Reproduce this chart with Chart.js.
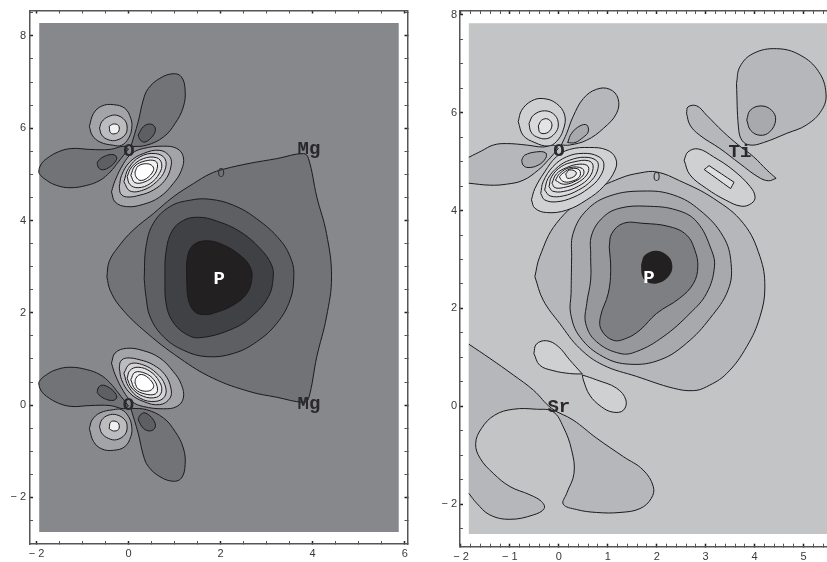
<!doctype html>
<html>
<head>
	<title>Contour maps</title>
	<script src="https://cdn.jsdelivr.net/npm/chart.js@4"></script>
	<style>
	html, body { margin: 0; padding: 0; background: #fff; overflow: hidden; }
	canvas { position: absolute; top: 0; }
	#left { left: 0; }
	#right { left: 413px; }
	</style>
</head>
<body>
	<canvas id="left" width="413" height="562"></canvas>
	<canvas id="right" width="414" height="562"></canvas>

	<script>

	// ---- left map, contours in axis units
	var leftXTicks = [-2,-1.5,-1,-0.5,0,0.5,1,1.5,2,2.5,3,3.5,4,4.5,5,5.5,6];
	var leftYTicks = [-3,-2.5,-2,-1.5,-1,-0.5,0,0.5,1,1.5,2,2.5,3,3.5,4,4.5,5,5.5,6,6.5,7,7.5,8,8.5];
	var leftXLabels = [-2,0,2,4,6];
	var leftYLabels = [-2,0,2,4,6,8];
	var leftBack = [[-1.94,8.28],[5.87,8.28],[5.87,-2.75],[-1.94,-2.75]];

	var leftWell1 = [[-0.47,2.78],[-0.42,3.11],[-0.22,3.43],[0.10,3.79],[0.54,4.15],[0.97,4.51],[1.41,4.80],[1.77,5.01],[2.06,5.11],[2.64,5.24],[3.22,5.34],[3.80,5.45],[3.91,5.34],[4.09,4.51],[4.30,3.72],[4.41,2.78],[4.30,1.91],[4.09,1.05],[3.91,0.14],[3.80,0.06],[3.22,0.17],[2.64,0.29],[1.84,0.58],[1.12,1.01],[0.32,1.63],[-0.18,2.13],[-0.40,2.49]];
	var leftWell2 = [[0.34,2.74],[0.38,3.43],[0.54,3.94],[0.90,4.30],[1.34,4.44],[1.77,4.46],[2.28,4.33],[2.78,4.04],[3.29,3.58],[3.54,3.14],[3.59,2.78],[3.51,2.28],[3.22,1.77],[2.78,1.37],[2.28,1.12],[1.70,1.05],[1.19,1.19],[0.76,1.48],[0.47,1.91],[0.38,2.35]];
	var leftWell3 = [[0.79,2.74],[0.81,3.29],[0.94,3.76],[1.19,4.00],[1.52,4.07],[1.91,3.99],[2.42,3.76],[2.86,3.39],[3.11,3.03],[3.14,2.74],[3.04,2.35],[2.71,1.95],[2.28,1.66],[1.55,1.46],[1.23,1.55],[0.94,1.84],[0.81,2.24]];
	var leftWell4 = [[1.26,2.74],[1.28,3.21],[1.41,3.47],[1.70,3.56],[2.06,3.47],[2.42,3.25],[2.64,3.00],[2.68,2.74],[2.57,2.42],[2.28,2.17],[1.91,2.01],[1.66,1.96],[1.44,2.02],[1.30,2.28]];

	// upper oxygen
	var upLobeW = [[-1.94,5.13],[-1.89,5.23],[-1.78,5.34],[-1.52,5.49],[-1.23,5.56],[-0.84,5.54],[-0.40,5.54],[-0.10,5.61],[0,5.55],[0,5.55],[-0.22,5.27],[-0.40,5.05],[-0.62,4.87],[-0.91,4.76],[-1.27,4.71],[-1.56,4.76],[-1.78,4.87],[-1.94,5.02]];
	var upLobeWIn = [[-0.68,5.26],[-0.58,5.36],[-0.37,5.43],[-0.26,5.38],[-0.29,5.27],[-0.44,5.14],[-0.58,5.10],[-0.66,5.16]];
	var upLobeN = [[0.05,5.60],[0.21,6.14],[0.32,6.61],[0.43,6.86],[0.68,7.08],[0.97,7.18],[1.15,7.11],[1.23,6.82],[1.19,6.46],[1.01,6.10],[0.76,5.81],[0.39,5.63]];
	var upLobeNIn = [[0.21,5.85],[0.32,6.03],[0.47,6.09],[0.58,6.01],[0.54,5.85],[0.36,5.70],[0.25,5.75]];
	var upSmall1 = [[-0.85,6.04],[-0.76,6.32],[-0.58,6.48],[-0.33,6.51],[-0.08,6.43],[0.05,6.21],[0.07,6.00],[0,5.78],[-0.15,5.63],[-0.33,5.63],[-0.62,5.70],[-0.79,5.85]];
	var upSmall2 = [[-0.63,6.00],[-0.58,6.14],[-0.44,6.25],[-0.26,6.28],[-0.08,6.17],[-0.03,6.00],[-0.08,5.85],[-0.26,5.74],[-0.44,5.75],[-0.58,5.85]];
	var upSmall3 = [[-0.42,6.04],[-0.33,6.09],[-0.22,6.06],[-0.21,5.94],[-0.29,5.88],[-0.39,5.90]];
	var upMain1 = [[-0.37,4.62],[-0.29,4.87],[-0.11,5.23],[0.07,5.45],[0.32,5.56],[0.76,5.61],[1.05,5.56],[1.19,5.38],[1.15,5.09],[0.97,4.80],[0.68,4.51],[0.32,4.35],[-0.04,4.30],[-0.29,4.40]];
	var upMain2 = [[-0.20,4.73],[-0.15,4.98],[0.03,5.27],[0.32,5.45],[0.68,5.52],[0.90,5.38],[0.92,5.16],[0.79,4.87],[0.54,4.66],[0.25,4.55],[-0.04,4.51],[-0.17,4.58]];
	var upMain3 = [[-0.10,4.84],[0,5.13],[0.25,5.38],[0.58,5.45],[0.79,5.34],[0.79,5.09],[0.61,4.84],[0.32,4.66],[0.03,4.64]];
	var upMain4 = [[-0.03,4.95],[0.07,5.16],[0.32,5.34],[0.61,5.36],[0.72,5.23],[0.67,5.02],[0.47,4.80],[0.21,4.71],[0.03,4.78]];
	var upMain5 = [[0.05,4.98],[0.14,5.18],[0.36,5.29],[0.58,5.29],[0.63,5.18],[0.55,4.98],[0.36,4.84],[0.14,4.82]];
	var upMain6 = [[0.14,5.05],[0.21,5.18],[0.39,5.23],[0.52,5.18],[0.54,5.08],[0.39,4.91],[0.25,4.87],[0.16,4.95]];

	// lower oxygen
	var lowLobeW = [[-1.94,0.40],[-1.89,0.30],[-1.78,0.19],[-1.52,0.04],[-1.23,-0.03],[-0.84,-0.01],[-0.40,-0.01],[-0.10,-0.08],[0,-0.02],[0,-0.02],[-0.22,0.26],[-0.40,0.48],[-0.62,0.66],[-0.91,0.77],[-1.27,0.82],[-1.56,0.77],[-1.78,0.66],[-1.94,0.51]];
	var lowLobeWIn = [[-0.68,0.27],[-0.58,0.17],[-0.37,0.10],[-0.26,0.15],[-0.29,0.26],[-0.44,0.39],[-0.58,0.43],[-0.66,0.37]];
	var lowLobeS = [[0.05,-0.07],[0.21,-0.61],[0.32,-1.08],[0.43,-1.33],[0.68,-1.55],[0.97,-1.65],[1.15,-1.58],[1.23,-1.29],[1.19,-0.93],[1.01,-0.57],[0.76,-0.28],[0.39,-0.10]];
	var lowLobeSIn = [[0.21,-0.32],[0.32,-0.50],[0.47,-0.56],[0.58,-0.48],[0.54,-0.32],[0.36,-0.17],[0.25,-0.22]];
	var lowSmall1 = [[-0.85,-0.51],[-0.76,-0.79],[-0.58,-0.95],[-0.33,-0.98],[-0.08,-0.90],[0.05,-0.68],[0.07,-0.47],[0,-0.25],[-0.15,-0.10],[-0.33,-0.10],[-0.62,-0.17],[-0.79,-0.32]];
	var lowSmall2 = [[-0.63,-0.47],[-0.58,-0.61],[-0.44,-0.72],[-0.26,-0.75],[-0.08,-0.64],[-0.03,-0.47],[-0.08,-0.32],[-0.26,-0.21],[-0.44,-0.22],[-0.58,-0.32]];
	var lowSmall3 = [[-0.42,-0.51],[-0.33,-0.56],[-0.22,-0.53],[-0.21,-0.41],[-0.29,-0.35],[-0.39,-0.37]];
	var lowMain1 = [[-0.37,0.91],[-0.29,0.66],[-0.11,0.30],[0.07,0.08],[0.32,-0.03],[0.76,-0.08],[1.05,-0.03],[1.19,0.15],[1.15,0.44],[0.97,0.73],[0.68,1.02],[0.32,1.18],[-0.04,1.23],[-0.29,1.13]];
	var lowMain2 = [[-0.20,0.80],[-0.15,0.55],[0.03,0.26],[0.32,0.08],[0.68,0.01],[0.90,0.15],[0.92,0.37],[0.79,0.66],[0.54,0.87],[0.25,0.98],[-0.04,1.02],[-0.17,0.95]];
	var lowMain3 = [[-0.10,0.69],[0,0.40],[0.25,0.15],[0.58,0.08],[0.79,0.19],[0.79,0.44],[0.61,0.69],[0.32,0.87],[0.03,0.89]];
	var lowMain4 = [[-0.03,0.58],[0.07,0.37],[0.32,0.19],[0.61,0.17],[0.72,0.30],[0.67,0.51],[0.47,0.73],[0.21,0.82],[0.03,0.75]];
	var lowMain5 = [[0.05,0.55],[0.14,0.35],[0.36,0.24],[0.58,0.24],[0.63,0.35],[0.55,0.55],[0.36,0.69],[0.14,0.71]];
	var lowMain6 = [[0.14,0.48],[0.21,0.35],[0.39,0.30],[0.52,0.35],[0.54,0.45],[0.39,0.62],[0.25,0.66],[0.16,0.58]];

	var leftAtoms = ["O","Mg","Mg","O","P"];
	var leftAtomX = [0.01,3.92,3.92,0,1.97];
	var leftAtomY = [5.50,5.55,0.02,0,2.73];
	var leftZero = [2.01,5.01];

	// ---- right map
	var rightXTicks = [-2,-1.8,-1.6,-1.4,-1.2,-1,-0.8,-0.6,-0.4,-0.2,0,0.2,0.4,0.6,0.8,1,1.2,1.4,1.6,1.8,2,2.2,2.4,2.6,2.8,3,3.2,3.4,3.6,3.8,4,4.2,4.4,4.6,4.8,5,5.2,5.4];
	var rightYTicks = [-2.5,-2,-1.5,-1,-0.5,0,0.5,1,1.5,2,2.5,3,3.5,4,4.5,5,5.5,6,6.5,7,7.5,8];
	var rightXLabels = [-2,-1,0,1,2,3,4,5];
	var rightYLabels = [-2,0,2,4,6,8];
	var rightBack = [[-1.84,7.83],[5.48,7.83],[5.48,-2.61],[-1.84,-2.61]];
	var rightEdge = -1.84;

	var rightWell1 = [[-0.49,2.65],[-0.39,3.06],[-0.05,3.74],[0.63,4.35],[1.25,4.66],[1.66,4.77],[2.00,4.79],[2.47,4.61],[3.16,4.25],[3.77,3.74],[4.11,3.06],[4.21,2.44],[4.11,1.83],[3.84,1.22],[3.43,0.67],[3.02,0.40],[2.75,0.32],[2.34,0.37],[1.59,0.61],[0.91,0.84],[0.43,1.18],[0.02,1.69],[-0.32,2.17]];
	var rightWell2 = [[0.26,2.99],[0.29,3.53],[0.57,4.01],[1.04,4.30],[1.72,4.40],[2.34,4.32],[2.88,4.01],[3.36,3.47],[3.52,2.92],[3.46,2.38],[3.09,1.80],[2.61,1.29],[2.07,0.95],[1.45,0.86],[0.91,1.01],[0.43,1.42],[0.24,1.90],[0.25,2.31]];
	var rightWell3 = [[0.65,3.06],[0.67,3.50],[0.91,3.87],[1.25,4.05],[1.79,4.09],[2.41,4.01],[2.82,3.77],[3.12,3.19],[3.18,2.85],[3.02,2.31],[2.68,1.90],[2.13,1.42],[1.59,1.12],[1.25,1.08],[0.77,1.32],[0.55,1.69],[0.57,2.10],[0.65,2.58]];
	var rightWell4 = [[1.03,3.26],[1.08,3.53],[1.32,3.74],[1.72,3.74],[2.27,3.67],[2.61,3.50],[2.78,3.19],[2.84,2.85],[2.75,2.51],[2.47,2.21],[2.00,1.90],[1.66,1.56],[1.38,1.39],[1.11,1.35],[0.87,1.56],[0.85,1.83],[1.01,2.31],[1.06,2.78]];
	var rightWell5 = [[1.68,2.89],[1.76,3.09],[2.00,3.18],[2.24,3.06],[2.32,2.85],[2.24,2.65],[2.00,2.51],[1.79,2.55],[1.70,2.68]];

	var oxLobeW = [[-1.84,5.09],[-1.58,5.22],[-1.34,5.34],[-1.07,5.37],[-0.66,5.34],[-0.32,5.30],[-0.12,5.34],[-0.01,5.27],[-0.01,5.27],[-0.22,5.03],[-0.42,4.83],[-0.73,4.62],[-1.07,4.54],[-1.41,4.52],[-1.84,4.56],[-1.84,4.56]];
	var oxLobeWIn = [[-0.76,5.03],[-0.70,5.13],[-0.46,5.20],[-0.27,5.18],[-0.27,5.07],[-0.42,4.93],[-0.63,4.88],[-0.73,4.93]];
	var oxLobeN = [[0.05,5.34],[0.16,5.58],[0.29,5.92],[0.50,6.29],[0.77,6.48],[1.04,6.48],[1.21,6.29],[1.18,5.99],[0.91,5.68],[0.57,5.44],[0.22,5.34]];
	var oxLobeNIn = [[0.18,5.39],[0.26,5.58],[0.43,5.73],[0.57,5.75],[0.60,5.61],[0.50,5.50],[0.33,5.39]];
	var oxSmall1 = [[-0.83,5.82],[-0.76,6.05],[-0.56,6.24],[-0.32,6.29],[-0.05,6.19],[0.12,5.95],[0.09,5.65],[-0.05,5.41],[-0.22,5.32],[-0.49,5.39],[-0.73,5.54]];
	var oxSmall2 = [[-0.61,5.78],[-0.52,5.95],[-0.29,6.04],[-0.08,5.95],[-0.01,5.75],[-0.08,5.58],[-0.25,5.47],[-0.46,5.51],[-0.57,5.61]];
	var oxSmall3 = [[-0.42,5.73],[-0.35,5.85],[-0.22,5.87],[-0.14,5.75],[-0.22,5.60],[-0.38,5.59]];
	var oxMain1 = [[-0.56,4.22],[-0.49,4.45],[-0.29,4.79],[-0.05,5.10],[0.22,5.25],[0.63,5.29],[0.98,5.24],[1.16,5.07],[1.15,4.83],[0.91,4.49],[0.57,4.22],[0.16,4.01],[-0.25,3.96],[-0.49,4.05]];
	var oxMain2 = [[-0.37,4.35],[-0.32,4.59],[-0.12,4.90],[0.16,5.10],[0.50,5.17],[0.80,5.11],[0.92,4.96],[0.84,4.69],[0.60,4.45],[0.29,4.27],[-0.05,4.18],[-0.29,4.22]];
	var oxMain3 = [[-0.29,4.42],[-0.22,4.66],[-0.01,4.90],[0.22,5.03],[0.53,5.09],[0.77,5.02],[0.80,4.86],[0.67,4.62],[0.40,4.42],[0.09,4.30],[-0.18,4.30]];
	var oxMain4 = [[-0.20,4.49],[-0.15,4.69],[0.05,4.90],[0.33,5.00],[0.60,5.02],[0.70,4.92],[0.63,4.69],[0.40,4.50],[0.09,4.39],[-0.13,4.40]];
	var oxMain5 = [[-0.14,4.56],[-0.05,4.75],[0.16,4.88],[0.43,4.95],[0.60,4.90],[0.57,4.73],[0.36,4.56],[0.09,4.47],[-0.08,4.47]];
	var oxMain6 = [[-0.07,4.62],[0.02,4.76],[0.23,4.88],[0.48,4.86],[0.50,4.73],[0.31,4.59],[0.09,4.54]];
	var oxMain7 = [[0.01,4.69],[0.09,4.77],[0.26,4.86],[0.42,4.83],[0.42,4.69],[0.23,4.59],[0.08,4.60]];
	var oxMain8 = [[0.14,4.75],[0.22,4.83],[0.35,4.79],[0.33,4.71],[0.18,4.66]];

	var tiBlob = [[3.63,6.60],[3.70,6.94],[3.97,7.21],[4.45,7.31],[4.93,7.18],[5.31,6.84],[5.46,6.39],[5.37,6.05],[5.06,5.75],[4.66,5.58],[4.18,5.39],[3.91,5.34],[3.74,5.44],[3.67,5.71]];
	var tiCircle = [[3.84,5.85],[3.91,6.05],[4.13,6.14],[4.35,6.05],[4.43,5.85],[4.31,5.61],[4.11,5.54],[3.92,5.64]];
	var tiDark = [[2.61,5.99],[2.64,6.12],[2.82,6.14],[3.02,5.95],[3.36,5.61],[3.67,5.34],[3.98,5.10],[4.25,4.83],[4.44,4.66],[4.44,4.66],[4.28,4.61],[4.07,4.69],[3.70,4.96],[3.29,5.27],[2.88,5.54],[2.68,5.75]];
	var tiLight1 = [[2.56,5.03],[2.64,5.20],[2.85,5.26],[3.16,5.10],[3.56,4.83],[3.91,4.49],[4.01,4.28],[3.94,4.15],[3.73,4.09],[3.40,4.22],[3.02,4.45],[2.68,4.73]];
	var tiLight2 = [[2.97,4.84],[3.07,4.92],[3.07,4.92],[3.58,4.58],[3.58,4.58],[3.51,4.45],[3.51,4.45],[2.97,4.84]];

	var srLobeA = [[-0.51,1.08],[-0.46,1.27],[-0.25,1.34],[-0.01,1.22],[0.22,0.95],[0.48,0.66],[0.48,0.66],[0.22,0.67],[-0.12,0.73],[-0.39,0.84]];
	var srLobeB = [[0.48,0.64],[0.48,0.64],[0.77,0.54],[1.18,0.37],[1.37,0.13],[1.32,-0.08],[1.11,-0.12],[0.87,-0.01],[0.63,0.23],[0.50,0.54]];
	var srRegion = [[-1.84,1.27],[-1.84,1.27],[-1.41,0.98],[-0.93,0.64],[-0.52,0.33],[-0.15,-0.04],[0.29,-0.28],[0.77,-0.65],[1.32,-1.03],[1.72,-1.30],[1.93,-1.64],[1.89,-1.88],[1.66,-2.09],[1.25,-2.17],[0.77,-2.17],[0.36,-2.11],[0.09,-2.00],[0.16,-1.78],[0.31,-1.37],[0.26,-0.89],[0.09,-0.42],[-0.12,-0.11],[-0.46,-0.06],[-0.93,-0.06],[-1.31,-0.18],[-1.58,-0.45],[-1.70,-0.76],[-1.61,-1.06],[-1.34,-1.37],[-1.00,-1.64],[-0.59,-1.81],[-0.35,-1.95],[-0.30,-2.09],[-0.52,-2.22],[-1.00,-2.31],[-1.41,-2.22],[-1.68,-1.98],[-1.84,-1.78],[-1.84,-1.78]];

	var rightAtoms = ["O","Ti","P","Sr"];
	var rightAtomX = [0,3.70,1.84,0];
	var rightAtomY = [5.22,5.19,2.62,-0.01];
	var rightZero = [2.00,4.68];

	// draw order is back to front, each entry: contour, fill, border
	var leftLayers = [
		[leftBack,'#87888b',0],
		[leftWell1,'#727376'],[leftWell2,'#5e5f62'],[leftWell3,'#404144'],[leftWell4,'#232022'],
		[upLobeW,'#727376'],[upLobeWIn,'#5e5f62'],[upLobeN,'#727376'],[upLobeNIn,'#5e5f62'],
		[upSmall1,'#a3a4a7'],[upSmall2,'#bcbcbf'],[upSmall3,'#f0f0f0'],
		[upMain1,'#a3a4a7'],[upMain2,'#bcbcbf'],[upMain3,'#d4d4d6'],[upMain4,'#e4e4e6'],[upMain5,'#f2f2f2'],[upMain6,'#ffffff'],
		[lowLobeW,'#727376'],[lowLobeWIn,'#5e5f62'],[lowLobeS,'#727376'],[lowLobeSIn,'#5e5f62'],
		[lowSmall1,'#a3a4a7'],[lowSmall2,'#bcbcbf'],[lowSmall3,'#f0f0f0'],
		[lowMain1,'#a3a4a7'],[lowMain2,'#bcbcbf'],[lowMain3,'#d4d4d6'],[lowMain4,'#e4e4e6'],[lowMain5,'#f2f2f2'],[lowMain6,'#ffffff']
	];
	var rightLayers = [
		[rightBack,'#c3c4c6',0],
		[srRegion,'#b6b7ba'],[srLobeA,'#cfd0d2'],[srLobeB,'#cfd0d2'],
		[rightWell1,'#b6b7ba'],[rightWell2,'#a8a9ac'],[rightWell3,'#97989b'],[rightWell4,'#7e7f82'],[rightWell5,'#232022',0],
		[oxLobeW,'#b6b7ba'],[oxLobeWIn,'#a8a9ac'],[oxLobeN,'#b6b7ba'],[oxLobeNIn,'#a8a9ac'],
		[oxSmall1,'#cfd0d2'],[oxSmall2,'#d9d9db'],[oxSmall3,'#e4e4e5'],
		[oxMain1,'#d0d1d3'],[oxMain2,'#d6d7d9'],[oxMain3,'#dcdcde'],[oxMain4,'#e1e1e3'],[oxMain5,'#e6e6e7'],[oxMain6,'#ebebec'],[oxMain7,'#f0f0f0'],[oxMain8,'#e3e3e4'],
		[tiBlob,'#b6b7ba'],[tiCircle,'#a8a9ac'],[tiDark,'#b6b7ba'],[tiLight1,'#cfd0d2'],[tiLight2,'#dfdfe1']
	];

	function makeDatasets(layers, edge) {
		return layers.map(function(l) {
			var pts = l[0].concat([l[0][0]]).map(function(p) { return {x: p[0], y: p[1]}; });
			var isBack = l[2] === 0 && l[0].length === 4;
			return {
				data: pts,
				showLine: true,
				fill: 'shape',
				backgroundColor: l[1],
				borderColor: '#1c1a1c',
				borderWidth: l[2] === 0 ? 0 : 1,
				pointRadius: 0,
				tension: isBack ? 0 : 0.4,
				segment: {
					// the map's own border carries no contour line
					borderColor: function(ctx) {
						return (edge !== null && ctx.p0.parsed.x <= edge && ctx.p1.parsed.x <= edge) ? 'rgba(0,0,0,0)' : undefined;
					}
				}
			};
		}).reverse();
	}

	function minus(v) {
		return v < 0 ? '\u2212 ' + Math.abs(v) : '' + v;
	}

	function axis(pos, min, max, ticks, labels, size, showLabels, pad) {
		return {
			type: 'linear',
			position: pos,
			min: min,
			max: max,
			afterBuildTicks: function(s) {
				s.ticks = ticks.map(function(v) { return {value: v}; });
			},
			afterFit: function(s) {
				if (pos === 'left' || pos === 'right') s.width = size; else s.height = size;
				// tick labels must not push the frame inwards
				s.paddingLeft = s.paddingRight = s.paddingTop = s.paddingBottom = 0;
			},
			border: {color: '#555557', width: 1.5},
			grid: {
				drawOnChartArea: false,
				tickLength: -3,
				tickColor: function(c) { return labels.indexOf(c.tick.value) >= 0 ? '#222' : '#555'; },
				tickWidth: function(c) { return labels.indexOf(c.tick.value) >= 0 ? 1.5 : 1; }
			},
			ticks: {
				display: showLabels,
				autoSkip: false,
				maxRotation: 0,
				padding: pad,
				color: '#3a3a3a',
				font: {family: '"Liberation Sans"', size: 11},
				callback: function(v) { return labels.indexOf(v) >= 0 ? minus(v) : ''; }
			}
		};
	}

	// atom names and the small zero contour label
	function atomPlugin(names, xs, ys, zero) {
		return {
			id: 'atoms',
			afterDatasetsDraw: function(chart) {
				var c = chart.ctx;
				var sx = chart.scales.x, sy = chart.scales.y;
				c.save();
				c.textAlign = 'center';
				c.textBaseline = 'middle';
				c.font = 'bold 19px "Liberation Mono"';
				names.forEach(function(n, i) {
					c.fillStyle = n === 'P' ? '#ffffff' : '#2a282a';
					c.fillText(n, sx.getPixelForValue(xs[i]), sy.getPixelForValue(ys[i]));
				});
				c.font = '13px "Liberation Sans"';
				c.fillStyle = '#333';
				c.fillText('0', sx.getPixelForValue(zero[0]), sy.getPixelForValue(zero[1]));
				c.restore();
			}
		};
	}

	function makeChart(id, layers, edge, scales, plugin) {
		return new Chart(document.getElementById(id).getContext('2d'), {
			type: 'scatter',
			data: {datasets: makeDatasets(layers, edge)},
			options: {
				responsive: false,
				animation: false,
				layout: {padding: 0, autoPadding: false},
				plugins: {legend: {display: false}, tooltip: {enabled: false}},
				scales: scales
			},
			plugins: [plugin]
		});
	}

	makeChart('left', leftLayers, null, {
		x: axis('bottom', -2.14, 6.06, leftXTicks, leftXLabels, 18, true, 6),
		x2: axis('top', -2.14, 6.06, leftXTicks, leftXLabels, 10.5, false, 0),
		y: axis('left', -3.01, 8.55, leftYTicks, leftYLabels, 30, true, 7),
		y2: axis('right', -3.01, 8.55, leftYTicks, leftYLabels, 5.5, false, 0)
	}, atomPlugin(leftAtoms, leftAtomX, leftAtomY, leftZero));

	makeChart('right', rightLayers, rightEdge, {
		x: axis('bottom', -2.02, 5.48, rightXTicks, rightXLabels, 15.3, true, 7),
		x2: axis('top', -2.02, 5.48, rightXTicks, rightXLabels, 11, false, 0),
		y: axis('left', -2.87, 8.08, rightYTicks, rightYLabels, 47, true, 6)
	}, atomPlugin(rightAtoms, rightAtomX, rightAtomY, rightZero));

	</script>
</body>
</html>
